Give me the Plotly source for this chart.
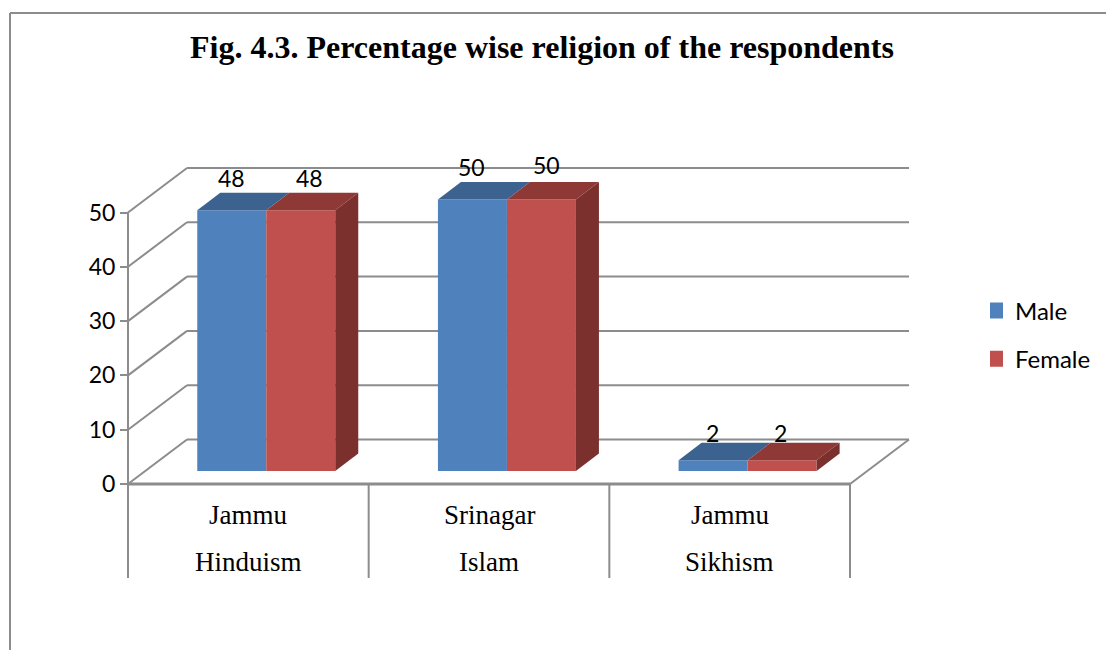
import plotly.graph_objects as go

# ---- data ----
cities = ["Jammu", "Srinagar", "Jammu"]
religions = ["Hinduism", "Islam", "Sikhism"]
male = [48, 50, 2]
female = [48, 50, 2]
y_ticks = [0, 10, 20, 30, 40, 50]
title_text = "Fig. 4.3. Percentage wise religion of the respondents"

# ---- style ----
W, H = 1106, 650
PX_X, PX_Y = 240.67, 5.43          # pixels per x / y data unit
X0, Y0 = 128, 484                  # pixel of data origin
GREY = "#8c8c8c"
BLUE, RED = "#4f81bd", "#c0504d"
BLUE_TOP, RED_TOP, RED_SIDE = "#3c6390", "#8f3937", "#7b302e"
WALL_DX, WALL_DY = 59 / PX_X, 44.5 / PX_Y
DEPTH_X, DEPTH_Y = 23 / PX_X, 17.5 / PX_Y
BAR_BASE = 13 / PX_Y
BAR_W = 69 / PX_X
SHIFT = 0.0745
BELOW = -94 / PX_Y
LABEL_FONT = "Lato"
SERIF = "Liberation Serif"

centers = [i + 0.5 + SHIFT for i in range(len(cities))]
fig = go.Figure()


def poly(xs, ys, color):
    fig.add_trace(go.Scatter(x=xs, y=ys, mode="lines", fill="toself", fillcolor=color,
                             line=dict(width=0, color=color), hoverinfo="skip", showlegend=False))


# front faces
fig.add_trace(go.Bar(x=[c - BAR_W / 2 for c in centers], y=male, base=BAR_BASE, width=BAR_W,
                     marker=dict(color=BLUE, line=dict(width=0)), showlegend=False))
fig.add_trace(go.Bar(x=[c + BAR_W / 2 for c in centers], y=female, base=BAR_BASE, width=BAR_W,
                     marker=dict(color=RED, line=dict(width=0)), showlegend=False))

# top and side faces, from the same values
for c, m, f in zip(centers, male, female):
    tm, tf = BAR_BASE + m, BAR_BASE + f
    poly([c - BAR_W, c, c + DEPTH_X, c - BAR_W + DEPTH_X, c - BAR_W],
         [tm, tm, tm + DEPTH_Y, tm + DEPTH_Y, tm], BLUE_TOP)
    poly([c, c + BAR_W, c + BAR_W + DEPTH_X, c + DEPTH_X, c],
         [tf, tf, tf + DEPTH_Y, tf + DEPTH_Y, tf], RED_TOP)
    r = c + BAR_W
    poly([r, r + DEPTH_X, r + DEPTH_X, r, r],
         [BAR_BASE, BAR_BASE + DEPTH_Y, tf + DEPTH_Y, tf, BAR_BASE], RED_SIDE)

# legend entries
for name, col in [("Male", BLUE), ("Female", RED)]:
    fig.add_trace(go.Scatter(x=[None], y=[None], mode="markers", name=name, legendgroup=name,
                             marker=dict(symbol="square", size=16, color=col)))

# walls, floor and gridlines
shapes = []


def seg(x0, y0, x1, y1, width=2):
    shapes.append(dict(type="line", xref="x", yref="y", x0=x0, y0=y0, x1=x1, y1=y1,
                       layer="below", line=dict(color=GREY, width=width)))


n = len(cities)
for v in y_ticks:
    seg(0, v, WALL_DX, v + WALL_DY)
    seg(WALL_DX, v + WALL_DY, n + WALL_DX, v + WALL_DY)
seg(0, 0, 0, max(y_ticks))
seg(0, 0, n, 0, 3)
seg(n, 0, n + WALL_DX, WALL_DY)
for i in range(n + 1):
    seg(i, 0, i, BELOW)

# page frame
frame = dict(type="line", xref="paper", yref="paper", layer="below", line=dict(color=GREY, width=2))
shapes.append(dict(frame, x0=10 / W, x1=10 / W, y0=0, y1=1 - 13 / H))
shapes.append(dict(frame, x0=10 / W, x1=1, y0=1 - 13 / H, y1=1 - 13 / H))

# value labels
annotations = []
nudges_m = [(0, -1), (-1, -1), (-1, -6)]
nudges_f = [(9, -1), (5, 1), (-2, -6)]
for vals, sign, nudges in [(male, -1, nudges_m), (female, 1, nudges_f)]:
    for i, (cc, v) in enumerate(zip(centers, vals)):
        annotations.append(dict(x=cc + sign * BAR_W / 2, y=BAR_BASE + v + DEPTH_Y, text=str(v),
                                xref="x", yref="y", showarrow=False, yanchor="bottom",
                                xshift=nudges[i][0], yshift=nudges[i][1],
                                font=dict(family=LABEL_FONT, size=23, color="#000000")))

# category labels
for i, (city, rel) in enumerate(zip(cities, religions)):
    for text, py in [(city, 515), (rel, 562)]:
        annotations.append(dict(x=i + 0.5, y=(Y0 - py) / PX_Y, text=text, xref="x", yref="y",
                                showarrow=False, font=dict(family=SERIF, size=27, color="#000000")))

fig.update_layout(
    width=W, height=H, margin=dict(l=0, r=0, t=0, b=0),
    paper_bgcolor="white", plot_bgcolor="white", barmode="overlay",
    title=dict(text="<b>" + title_text + "</b>", x=542 / W, xanchor="center",
               y=1 - 47 / H, yanchor="middle",
               font=dict(family=SERIF, size=32, color="#000000")),
    xaxis=dict(range=[-X0 / PX_X, (W - X0) / PX_X], visible=False, fixedrange=True),
    yaxis=dict(range=[(Y0 - H) / PX_Y, Y0 / PX_Y], anchor="free", position=X0 / W,
               tickmode="array", tickvals=y_ticks, ticktext=[str(t) for t in y_ticks],
               ticks="outside", ticklen=8, tickcolor=GREY, tickwidth=2,
               showgrid=False, zeroline=False, showline=False, fixedrange=True,
               tickfont=dict(family=LABEL_FONT, size=23, color="#000000")),
    legend=dict(x=990 / W, y=1 - 288.5 / H, xanchor="left", yanchor="top", bgcolor="rgba(0,0,0,0)",
                font=dict(family=LABEL_FONT, size=24, color="#000000"),
                tracegroupgap=14, itemwidth=30, indentation=-15),
    shapes=shapes, annotations=annotations, showlegend=True,
)

fig.write_html("out.html", config={"displayModeBar": False},
               post_script="document.body.style.margin='0';document.body.style.overflow='hidden';")
